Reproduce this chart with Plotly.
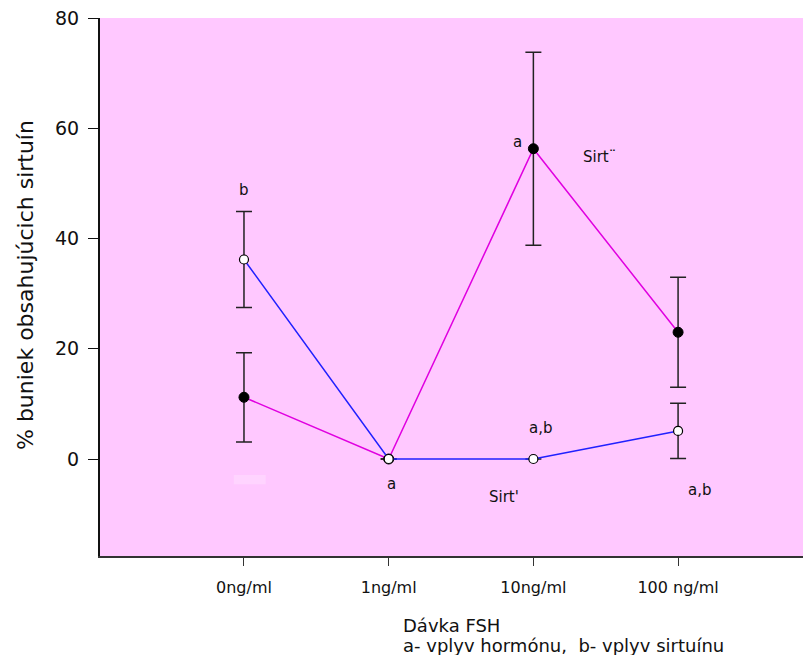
import plotly.graph_objects as go

categories = ["0ng/ml", "1ng/ml", "10ng/ml", "100 ng/ml"]
x_pos = [0, 1, 2, 3]
sirt1_vals = [36.2, 0.0, 0.0, 5.1]
sirt1_err = [8.7, 0.0, 0.0, 5.0]
sirt2_vals = [11.2, 0.0, 56.3, 23.0]
sirt2_err = [8.1, 0.0, 17.5, 10.0]
y_ticks = [0, 20, 40, 60, 80]

font_main = "DejaVu Sans, Verdana, sans-serif"

fig = go.Figure()
fig.add_trace(go.Scatter(
    x=x_pos, y=sirt2_vals, mode="lines+markers",
    line=dict(color="#E000E0", width=1.5),
    marker=dict(symbol="circle", size=10, color="black", line=dict(color="black", width=1)),
    error_y=dict(type="data", array=sirt2_err, color="#222222", thickness=1.5, width=8),
    showlegend=False))
fig.add_trace(go.Scatter(
    x=x_pos, y=sirt1_vals, mode="lines+markers",
    line=dict(color="#2020FF", width=1.5),
    marker=dict(symbol="circle", size=9, color="white", line=dict(color="black", width=1.2)),
    error_y=dict(type="data", array=sirt1_err, color="#222222", thickness=1.5, width=8),
    showlegend=False))

ann = [
    (0, 48.8, "b"),
    (1.02, -4.5, "a"),
    (1.89, 57.5, "a"),
    (2.05, 5.6, "a,b"),
    (2.46, 54.8, "Sirt¨"),
    (1.80, -6.9, "Sirt'"),
    (3.15, -5.6, "a,b"),
]
for x, y, t in ann:
    fig.add_annotation(x=x, y=y, text=t, showarrow=False,
                       font=dict(family=font_main, size=15, color="#111111"))

W = 795
H = 647
PLOT_BOTTOM = 548   # figure px
PLOT_TOP = 10
ph = PLOT_BOTTOM - PLOT_TOP

def py(fig_y):
    return (PLOT_BOTTOM - fig_y) / ph

pw = W - 92
def px(fig_x):
    return (fig_x - 92) / pw

# x title (two tight lines, left aligned)
fig.add_annotation(xref="paper", yref="paper", x=px(393), y=py(617), xanchor="left", yanchor="middle",
                   text="Dávka FSH", showarrow=False,
                   font=dict(family=font_main, size=18, color="#111111"))
fig.add_annotation(xref="paper", yref="paper", x=px(393), y=py(637), xanchor="left", yanchor="middle",
                   text="a- vplyv hormónu,  b- vplyv sirtuínu", showarrow=False,
                   font=dict(family=font_main, size=18, color="#111111"))
# y title
fig.add_annotation(xref="paper", yref="paper", x=px(17), y=py(277), xanchor="center", yanchor="middle",
                   text="% buniek obsahujúcich sirtuín", textangle=-90, showarrow=False,
                   font=dict(family=font_main, size=22, color="#111111"))

# faint lighter patch seen in the original
fig.add_shape(type="rect", xref="x", yref="y", x0=-0.07, x1=0.15, y0=-4.6, y1=-2.9,
              line=dict(width=0), fillcolor="#FFD4FF", layer="below")

# x range: category spacing ~144.7 px, left edge one step before first category
step = 144.7
x_right = -0.995 + pw / step

fig.update_layout(
    width=W, height=H,
    margin=dict(l=92, r=0, t=PLOT_TOP, b=H - PLOT_BOTTOM),
    paper_bgcolor="white", plot_bgcolor="#FFC8FF",
    font=dict(family=font_main, color="#111111"),
    xaxis=dict(range=[-0.995, x_right], tickmode="array", tickvals=x_pos, ticktext=categories,
               showgrid=False, zeroline=False, showline=True, linecolor="#333333", linewidth=2,
               ticks="outside", ticklen=8, tickcolor="#333333", ticklabelstandoff=8,
               tickfont=dict(size=16, family=font_main)),
    yaxis=dict(range=[-17.6, 80.02], tickmode="array", tickvals=y_ticks,
               showgrid=False, zeroline=False, showline=True, linecolor="#111111", linewidth=2,
               ticks="outside", ticklen=10, tickcolor="#111111", ticklabelstandoff=5,
               ticklabeloverflow="allow",
               tickfont=dict(size=19, family=font_main)),
)
fig.write_html("out.html")
